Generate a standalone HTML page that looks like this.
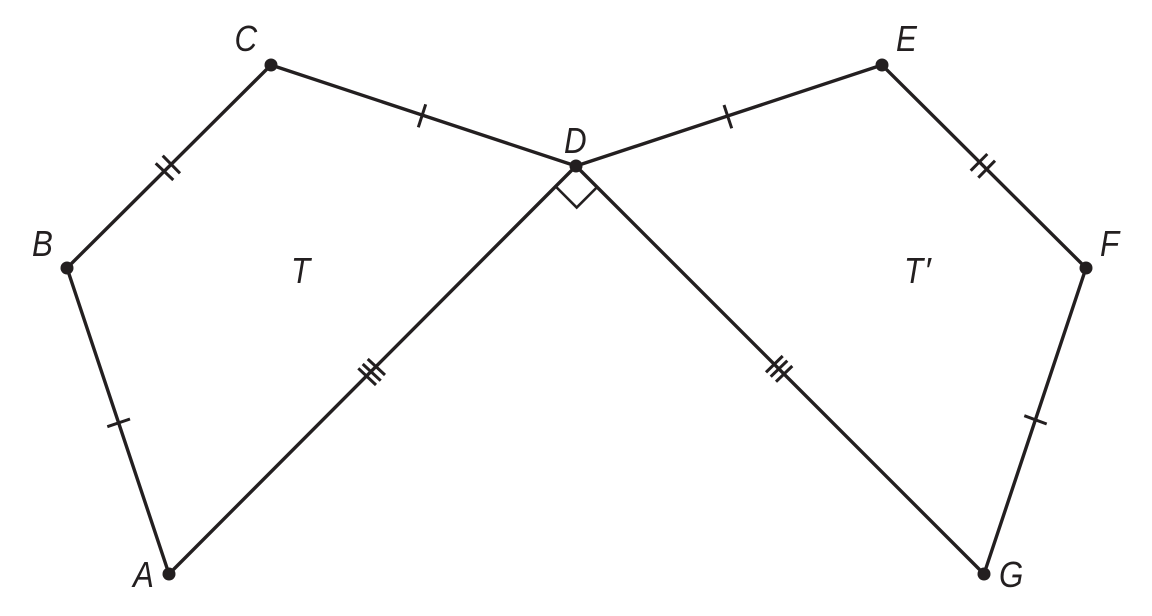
<!DOCTYPE html>
<html>
<head>
<meta charset="utf-8">
<style>
html,body{margin:0;padding:0;background:#fff;width:1152px;height:616px;overflow:hidden}
svg{display:block}
text{font-family:"Liberation Sans",sans-serif;font-style:italic;font-size:36px;fill:#231f20}
</style>
</head>
<body>
<svg width="1152" height="616" viewBox="0 0 1152 616" xmlns="http://www.w3.org/2000/svg">
<g fill="none" stroke="#231f20" stroke-width="3.4" stroke-linecap="round" stroke-linejoin="round">
<polygon points="169,574 67,268 271,65 576,166"/>
<polygon points="984,574 1086,268 882,65 576,166"/>
<polyline points="556.7,187.5 576.7,207.5 596.7,187.5" stroke-width="2.6" stroke-linejoin="miter"/>
<g stroke-width="3" stroke-linecap="butt">
<line x1="425.7" y1="104.3" x2="418.3" y2="127.3"/>
<line x1="724" y1="105" x2="731.7" y2="128.3"/>
<line x1="107.3" y1="426.7" x2="130" y2="419"/>
<line x1="1024.3" y1="415.7" x2="1046.7" y2="424"/>
<line x1="155.7" y1="163.3" x2="173.3" y2="180"/>
<line x1="162.7" y1="155.7" x2="180" y2="173.3"/>
<line x1="970.7" y1="170.7" x2="987.3" y2="154"/>
<line x1="978.3" y1="177.7" x2="995" y2="160.7"/>
<line x1="358.3" y1="368.3" x2="376" y2="385"/>
<line x1="362.7" y1="364" x2="380.7" y2="380.7"/>
<line x1="367.7" y1="359" x2="385" y2="375"/>
<line x1="766" y1="372.3" x2="782.7" y2="356"/>
<line x1="770.7" y1="376.7" x2="787.3" y2="360.7"/>
<line x1="776" y1="381.7" x2="792.3" y2="366"/>
</g>
</g>
<g fill="#231f20">
<circle cx="169" cy="574" r="6.5"/>
<circle cx="67" cy="268" r="6.5"/>
<circle cx="271" cy="65" r="6.5"/>
<circle cx="576" cy="166" r="6.5"/>
<circle cx="882" cy="65" r="6.5"/>
<circle cx="1086" cy="268" r="6.5"/>
<circle cx="984" cy="574" r="6.5"/>
</g>
<text transform="translate(234.5,51) scale(.87,1)">C</text>
<text transform="translate(896,51) scale(.87,1)">E</text>
<text transform="translate(564,153) scale(.87,1)">D</text>
<text transform="translate(32,256) scale(.87,1)">B</text>
<text transform="translate(1100,256) scale(.87,1)">F</text>
<text transform="translate(133,587) scale(.87,1)">A</text>
<text transform="translate(999,587) scale(.87,1)">G</text>
<text transform="translate(291,283) scale(.87,1)">T</text>
<text transform="translate(904,283) scale(.87,1)">T</text>
<text x="924" y="283">′</text>
</svg>
</body>
</html>
